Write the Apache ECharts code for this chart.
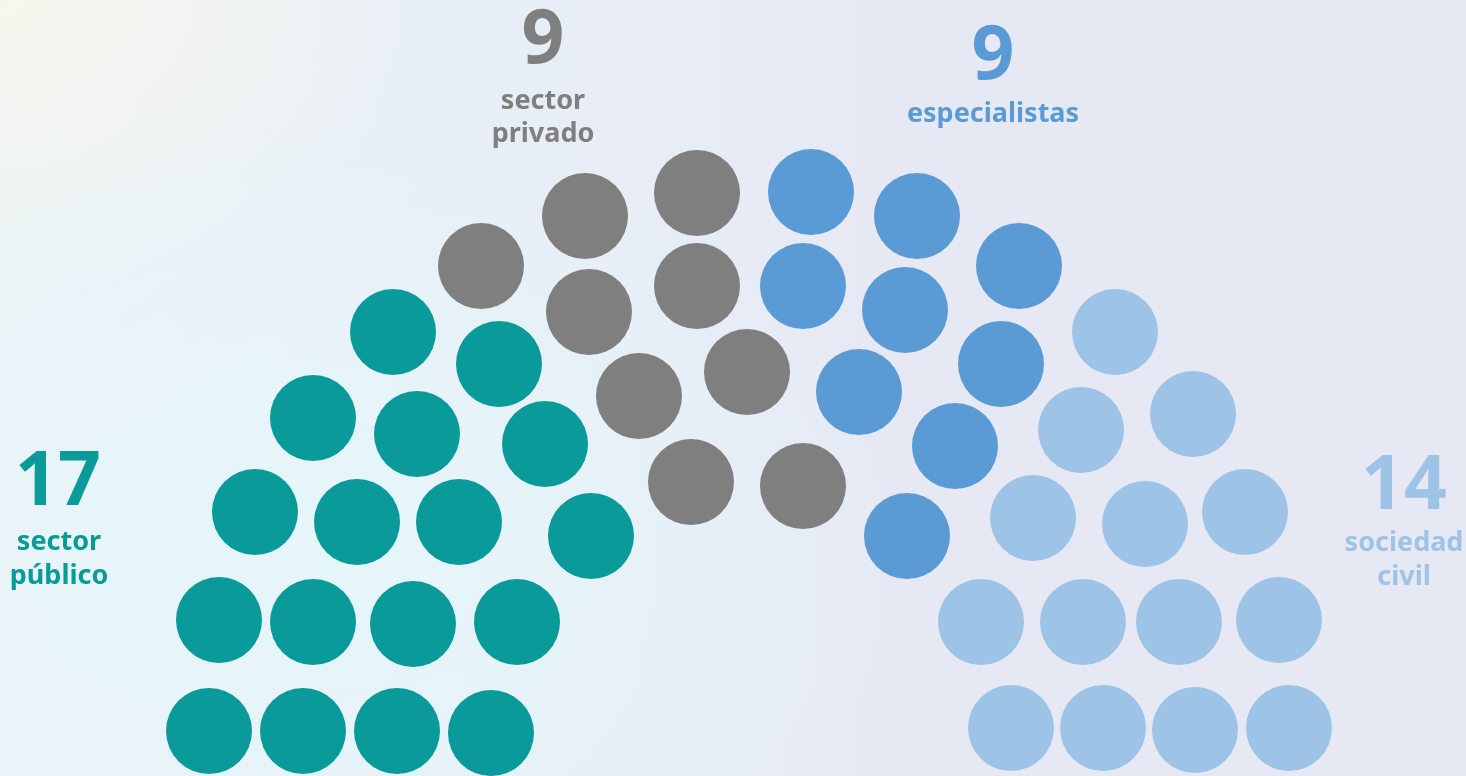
<!DOCTYPE html>
<html><head><meta charset="utf-8">
<script src="https://cdn.jsdelivr.net/npm/echarts@6/dist/echarts.min.js"></script>
<style>
html,body{margin:0;padding:0;width:1466px;height:776px;overflow:hidden;}
body{background:
 radial-gradient(ellipse 560px 440px at 340px 560px, rgba(229,246,251,1) 0%, rgba(229,246,251,0) 100%),
 radial-gradient(ellipse 420px 300px at 0px 0px, rgba(247,246,238,1) 0%, rgba(247,246,238,0) 100%),
 linear-gradient(90deg,#eaf3f6 0%,#e8eef6 35%,#e6e9f4 60%,#e6e9f4 100%);}
#c{width:1466px;height:776px;}
</style></head><body>
<div id="c"></div>
<script>
// Seat groups (positions in the chart's seat space)
const groupNames = ['sector público','sector privado','especialistas','sociedad civil'];
const groupCounts = [17, 9, 9, 14];
const publicoX = [209,303,397,491,219,313,413,517,255,357,459,591,313,417,545,393,499];
const publicoY = [731,731,731,733,620,622,624,622,512,522,522,536,418,434,444,332,364];
const privadoX = [481,585,697,589,697,639,747,691,803];
const privadoY = [266,216,193,312,286,396,372,482,486];
const especialistasX = [811,917,1019,803,905,1001,859,955,907];
const especialistasY = [192,216,266,286,310,364,392,446,536];
const civilX = [1115,1081,1193,1033,1145,1245,981,1083,1179,1279,1011,1103,1195,1289];
const civilY = [332,430,414,518,524,512,622,622,622,620,728,728,730,728];

const colors = ['#0a9a9a','#7f7f7f','#5b9bd5','#9dc3e6'];
const xs = [publicoX, privadoX, especialistasX, civilX];
const ys = [publicoY, privadoY, especialistasY, civilY];

const chart = echarts.init(document.getElementById('c'), null, {renderer:'canvas'});
const series = xs.map((arr,i)=>({
  type:'scatter', name:groupNames[i], symbol:'circle', symbolSize:86,
  itemStyle:{color:colors[i], opacity:1}, silent:true,
  data: arr.map((x,j)=>[x, ys[i][j]])
}));

const numFont = '"Noto Sans", "DejaVu Sans", sans-serif';
function txt(text, x, y, size, color){
  return {type:'text', x:x, y:y, style:{text:text, x:0, y:0, fill:color,
    font:'bold '+size+'px '+numFont, textAlign:'center', textVerticalAlign:'middle'}};
}
const graphic = [
  txt(String(groupCounts[1]), 543, 42, 75, colors[1]),
  txt('sector', 543, 101, 27, colors[1]),
  txt('privado', 543, 134, 27, colors[1]),
  txt(String(groupCounts[2]), 993, 58, 75, colors[2]),
  txt(groupNames[2], 993, 114, 27, colors[2]),
  txt(String(groupCounts[0]), 58, 484, 75, colors[0]),
  txt('sector', 59, 542, 27, colors[0]),
  txt('público', 59, 576, 27, colors[0]),
  txt(String(groupCounts[3]), 1404, 488, 75, colors[3]),
  txt('sociedad', 1404, 543, 27, colors[3]),
  txt('civil', 1404, 577, 27, colors[3])
];

chart.setOption({
  backgroundColor:'transparent',
  animation:false,
  grid:{left:0,right:0,top:0,bottom:0},
  xAxis:{type:'value',min:0,max:1466,show:false},
  yAxis:{type:'value',min:0,max:776,inverse:true,show:false},
  series:series,
  graphic:graphic
});
</script>
</body></html>
